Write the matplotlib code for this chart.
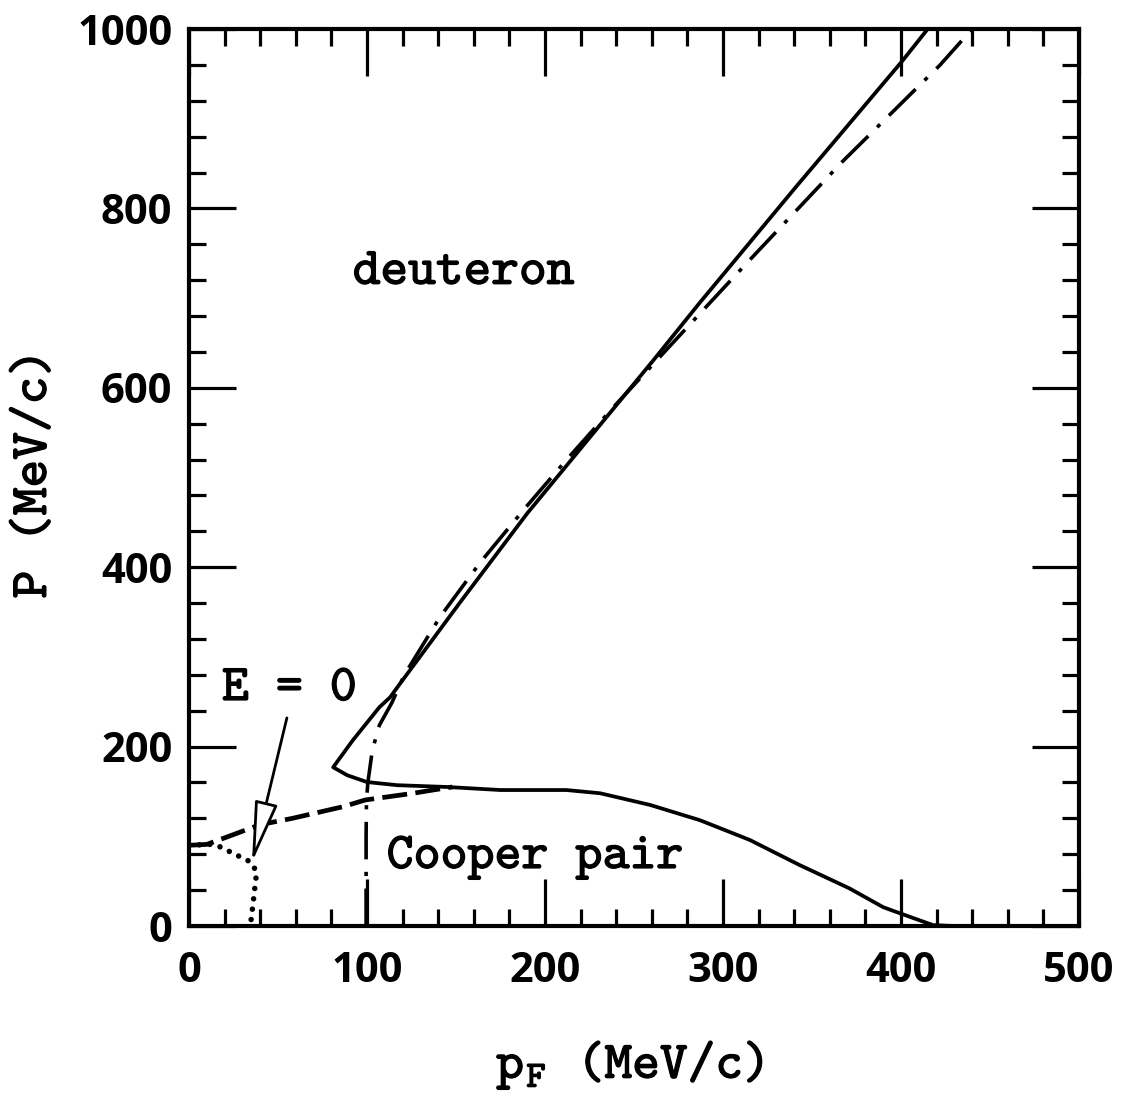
import numpy as np
import matplotlib
matplotlib.use("Agg")
import matplotlib.pyplot as plt
import matplotlib.patheffects as pe
from matplotlib.ticker import MultipleLocator

# --- DATA ---
# solid: deuteron / Cooper pair boundary, from the top right down to the cusp and along the bottom
solid_pf = [415, 401, 341, 287, 261, 190, 152, 117, 113, 107, 92, 81,
            89, 100, 117, 145, 175, 212, 231, 259, 287, 315, 343, 371, 390, 399, 418, 430]
solid_P = [1000, 965, 824, 695, 631, 460, 360, 266, 255, 244, 207, 177,
           168, 160.5, 157, 155, 151.6, 151.6, 148, 135, 118, 96, 68, 42, 21, 14.5, 1, 0]

# dash-dot curve
dashdot_pf = [99.5, 99.5, 99.7, 100.5, 103, 107, 114, 121, 141, 163.5, 188, 212, 238,
              289, 315, 367, 422, 440]
dashdot_P = [0, 100, 140, 160, 196, 224, 249, 280, 344.5, 405, 464, 519.5, 577.5,
             687, 742.5, 852, 960, 1000]

# dashed curve
dashed_pf = [0, 10, 21, 40, 58, 86.5, 99, 126, 137, 148]
dashed_P = [90, 91, 99, 113, 120, 133, 140.5, 148, 151.6, 155]

# dotted curve (E = 0)
dotted_pf = [0, 12, 18, 24.7, 30, 35, 38, 37, 36, 35, 34.5]
dotted_P = [90, 91, 88, 81, 76, 71, 60, 43, 25, 9, 0]

arrow_tip = (35.4, 71)
arrow_tail = (55, 232)

plt.rcParams['font.family'] = ['Open Sans', 'DejaVu Sans']
plt.rcParams['mathtext.fontset'] = 'cm'
plt.rcParams['lines.scale_dashes'] = False

LABEL_FONT = 'cmtt10'
BOLDEN = [pe.withStroke(linewidth=0.9, foreground='black')]

fig = plt.figure(figsize=(11.21, 10.96), dpi=100)
ax = fig.add_axes([0.1686, 0.1551, 0.7939, 0.8184])

ax.plot(solid_pf, solid_P, color='black', lw=2.7, solid_joinstyle='round')
ax.plot(dashdot_pf, dashdot_P, color='black', lw=2.6,
        linestyle=(0, (27, 9, 3, 9)), dash_capstyle='butt')
ax.plot(dashed_pf, dashed_P, color='black', lw=3.4,
        linestyle=(0, (18, 6)), dash_capstyle='butt')
ax.plot(dotted_pf, dotted_P, color='black', lw=4.0,
        linestyle=(0, (0.01, 7.5)), dash_capstyle='round')

ax.annotate('', xy=arrow_tip, xytext=arrow_tail,
            arrowprops=dict(arrowstyle='-|>,head_length=1.9,head_width=0.36',
                            mutation_scale=20, fc='white', ec='black', lw=2.0,
                            shrinkA=0, shrinkB=0))

txt_kw = dict(fontfamily=LABEL_FONT, va='baseline', ha='left', path_effects=BOLDEN)
ax.text(92, 716, 'deuteron', fontsize=38, **txt_kw)
ax.text(111, 64.7, 'Cooper pair', fontsize=37, **txt_kw)
ax.text(18.5, 252, 'E = 0', fontsize=37, **txt_kw)

ax.set_xlim(0, 500)
ax.set_ylim(0, 1000)
ax.xaxis.set_major_locator(MultipleLocator(100))
ax.xaxis.set_minor_locator(MultipleLocator(20))
ax.yaxis.set_major_locator(MultipleLocator(200))
ax.yaxis.set_minor_locator(MultipleLocator(40))

ax.tick_params(which='both', direction='in', top=True, right=True, color='black')
ax.tick_params(which='major', length=34, width=2.3, labelsize=30)
ax.tick_params(which='minor', length=12, width=2.3)
ax.tick_params(axis='x', which='major', pad=18)
ax.tick_params(axis='y', which='major', pad=12)
for lab in ax.get_xticklabels() + ax.get_yticklabels():
    lab.set_fontweight('bold')

for sp in ax.spines.values():
    sp.set_linewidth(3.0)

fig.text(0.562, 0.0164, r'$\mathtt{p}_{\mathtt{F}}$ (MeV/c)', fontfamily=LABEL_FONT,
         fontsize=38, ha='center', va='baseline', path_effects=BOLDEN)
fig.text(0.032, 0.568, 'P (MeV/c)', fontfamily=LABEL_FONT, fontsize=38,
         rotation=90, ha='center', va='center', path_effects=BOLDEN)

fig.savefig('out.png', dpi=100)
